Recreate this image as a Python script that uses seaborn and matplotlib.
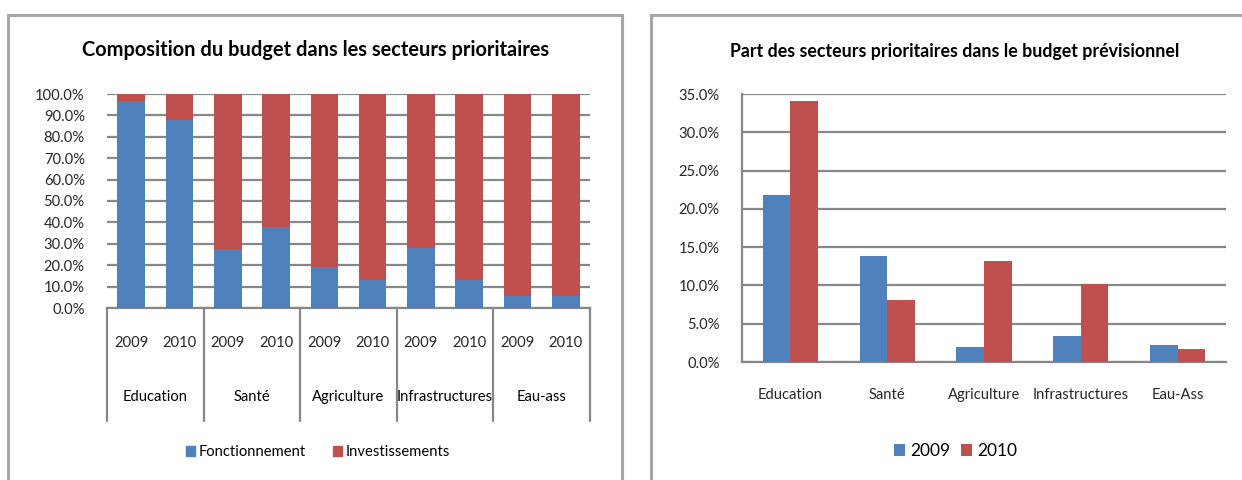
import matplotlib
matplotlib.use("Agg")
import matplotlib.pyplot as plt
import matplotlib.patches as mpatches
import matplotlib.transforms as mtrans
from matplotlib.ticker import PercentFormatter, MultipleLocator
import seaborn as sns
import pandas as pd

# ---- data ----
sectors_left = ["Education", "Santé", "Agriculture", "Infrastructures", "Eau-ass"]
sectors_right = ["Education", "Santé", "Agriculture", "Infrastructures", "Eau-Ass"]
years = ["2009", "2010"]
fonctionnement = [96.7, 87.7, 27.5, 37.9, 19.0, 13.1, 28.1, 13.1, 5.7, 5.4]  # % of sector budget
investissements = [100 - v for v in fonctionnement]
part_2009 = [21.8, 13.9, 2.0, 3.4, 2.2]
part_2010 = [34.1, 8.1, 13.2, 10.2, 1.7]

BLUE = "#4F81BD"
RED = "#C0504D"
GRID = "#878787"
FONT = ["Lato", "DejaVu Sans"]
FS = 10.6

sns.set_theme(style="white")
plt.rcParams["font.family"] = FONT
plt.rcParams["text.color"] = "#000000"

fig = plt.figure(figsize=(12.42, 4.8), dpi=100)

# panel frames
for x0, x1 in [(8 / 1242, 622 / 1242), (651 / 1242, 1.2)]:
    fig.patches.append(mpatches.Rectangle((x0, -0.2), x1 - x0, 0.96875 + 0.2,
                                          transform=fig.transFigure, fill=False,
                                          edgecolor="#a6a6a6", linewidth=2.2, zorder=0))

# ---- left chart: stacked 100% ----
axL = fig.add_axes([107 / 1242, 1 - 308 / 480, 483 / 1242, 214 / 480])
slots = [f"{s}-{y}" for s in sectors_left for y in years]
totals = [f + i for f, i in zip(fonctionnement, investissements)]
dfL = pd.DataFrame({"slot": slots, "total": totals, "fonc": fonctionnement})
sns.barplot(data=dfL, x="slot", y="total", color=RED, saturation=1, width=0.57,
            ax=axL, order=slots, zorder=3, edgecolor="none")
sns.barplot(data=dfL, x="slot", y="fonc", color=BLUE, saturation=1, width=0.57,
            ax=axL, order=slots, zorder=4, edgecolor="none")
axL.set_ylim(0, 100)
axL.set_xlim(-0.5, len(slots) - 0.5)
axL.yaxis.set_major_locator(MultipleLocator(10))
axL.yaxis.set_major_formatter(PercentFormatter(decimals=1))
axL.grid(axis="y", color=GRID, linewidth=1.6, zorder=0)
axL.set_axisbelow(True)
for s in ["left", "right", "top"]:
    axL.spines[s].set_visible(False)
axL.spines["bottom"].set_color(GRID)
axL.spines["bottom"].set_linewidth(1.6)
axL.set_xticks(range(len(slots)))
axL.set_xticklabels([y for _ in sectors_left for y in years])
axL.tick_params(axis="x", length=0, pad=20, labelsize=FS)
axL.tick_params(axis="y", length=0, pad=16, labelsize=FS)
axL.set_xlabel("")
axL.set_ylabel("")
trL = mtrans.blended_transform_factory(axL.transData, axL.transAxes)
for i, s in enumerate(sectors_left):
    axL.text(2 * i + 0.5, -0.416, s, transform=trL, ha="center", va="center", fontsize=FS)
for k in range(len(sectors_left) + 1):
    axL.plot([2 * k - 0.5, 2 * k - 0.5], [0, -0.528], transform=trL, color=GRID,
             linewidth=1.6, clip_on=False)
axL.set_title("Composition du budget dans les secteurs prioritaires",
              fontsize=14.4, fontweight="bold", pad=27, x=0.431)
hL = [mpatches.Patch(color=BLUE, label="Fonctionnement"),
      mpatches.Patch(color=RED, label="Investissements")]
axL.legend(handles=hL, loc="center", bbox_to_anchor=(0.437, -0.673), ncol=2, frameon=False,
           fontsize=FS, handlelength=0.6, handleheight=0.6, handletextpad=0.3,
           columnspacing=1.8)

# ---- right chart: grouped bars ----
axR = fig.add_axes([742 / 1242, 1 - 362 / 480, 484 / 1242, 268 / 480])
dfR = pd.DataFrame({
    "sector": sectors_right * 2,
    "year": [years[0]] * 5 + [years[1]] * 5,
    "part": part_2009 + part_2010,
})
sns.barplot(data=dfR, x="sector", y="part", hue="year", order=sectors_right,
            hue_order=years, palette=[BLUE, RED], saturation=1, width=0.57,
            ax=axR, zorder=3, edgecolor="none")
axR.set_ylim(0, 35)
axR.set_xlim(-0.5, 4.5)
axR.yaxis.set_major_locator(MultipleLocator(5))
axR.yaxis.set_major_formatter(PercentFormatter(decimals=1))
axR.grid(axis="y", color=GRID, linewidth=1.6, zorder=0)
axR.set_axisbelow(True)
for s in ["right", "top"]:
    axR.spines[s].set_visible(False)
for s in ["left", "bottom"]:
    axR.spines[s].set_color(GRID)
    axR.spines[s].set_linewidth(1.6)
axR.tick_params(axis="x", length=0, pad=19, labelsize=FS)
axR.tick_params(axis="y", length=0, pad=16, labelsize=FS)
axR.set_xlabel("")
axR.set_ylabel("")
axR.set_title("Part des secteurs prioritaires dans le budget prévisionnel",
              fontsize=12.8, fontweight="bold", pad=27, x=0.44)
axR.legend(loc="center", bbox_to_anchor=(0.442, -0.332), ncol=2, frameon=False,
           fontsize=12.5, handlelength=0.65, handleheight=0.65, handletextpad=0.3,
           columnspacing=0.6)

fig.savefig("out.png", dpi=100)
